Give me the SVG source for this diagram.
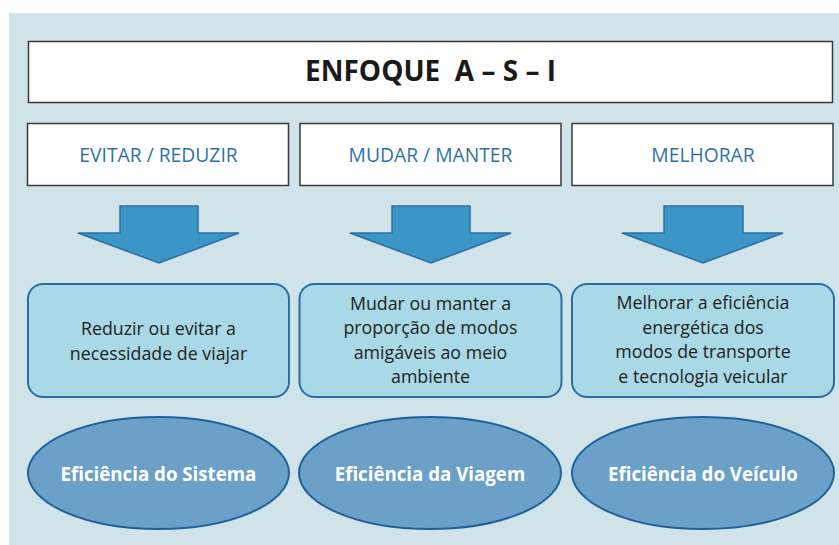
<svg xmlns="http://www.w3.org/2000/svg" width="839" height="545" viewBox="0 0 839 545">
<defs>
<style>
.hdr{fill:#ffffff;stroke:#3a3a3a;stroke-width:1.5}
.hdrt{font-family:"Open Sans","Liberation Sans",sans-serif;font-size:19.3px;fill:#2f72a6;text-anchor:middle}
.arr{fill:#3b95c7;stroke:#2b70a6;stroke-width:1.5;stroke-linejoin:miter}
.rb{fill:#a9d8e6;stroke:#2a6ea6;stroke-width:2}
.rbt{font-family:"Open Sans","Liberation Sans",sans-serif;font-size:17.8px;fill:#231f20;text-anchor:middle}
.el{fill:#6ba1c8;stroke:#1f619c;stroke-width:2}
.elt{font-family:"Open Sans","Liberation Sans",sans-serif;font-size:18.7px;font-weight:bold;fill:#ffffff;text-anchor:middle}
</style>
</defs>
<rect x="0" y="0" width="839" height="545" fill="#ffffff"/>
<rect x="9" y="13" width="830" height="532" fill="#cfe3e8"/>

<g id="title">
<rect class="hdr" x="28.5" y="41.5" width="804" height="61"/>
<text x="430.5" y="81" font-family="'Open Sans','Liberation Sans',sans-serif" font-size="28" font-weight="bold" fill="#1a1a1a" text-anchor="middle" xml:space="preserve">ENFOQUE  A – S – I</text>
</g>

<g id="h1">
<rect class="hdr" x="27.5" y="123.5" width="261" height="62"/>
<text class="hdrt" x="158.5" y="162">EVITAR / REDUZIR</text>
</g>
<g id="h2">
<rect class="hdr" x="300" y="123.5" width="261" height="62"/>
<text class="hdrt" x="430.5" y="162">MUDAR / MANTER</text>
</g>
<g id="h3">
<rect class="hdr" x="572" y="123.5" width="261" height="62"/>
<text class="hdrt" x="703" y="162">MELHORAR</text>
</g>

<g id="connectors">
<path class="arr" d="M120 206 H198 V233 H239 L159 263 L78 233 H120 Z"/>
<path class="arr" d="M392 206 H470 V233 H511 L431 263 L350 233 H392 Z"/>
<path class="arr" d="M664 206 H743 V233 H783 L703 263 L622 233 H664 Z"/>
</g>

<g id="b1">
<rect class="rb" x="28" y="284" width="261" height="113" rx="15" ry="15"/>
<text class="rbt" x="158.5" y="335">Reduzir ou evitar a</text>
<text class="rbt" x="158.5" y="359.5">necessidade de viajar</text>
</g>
<g id="b2">
<rect class="rb" x="299.5" y="284" width="262" height="113" rx="15" ry="15"/>
<text class="rbt" x="430.5" y="309.5">Mudar ou manter a</text>
<text class="rbt" x="430.5" y="334">proporção de modos</text>
<text class="rbt" x="430.5" y="358.5">amigáveis ao meio</text>
<text class="rbt" x="430.5" y="383">ambiente</text>
</g>
<g id="b3">
<rect class="rb" x="572" y="284" width="262" height="113" rx="15" ry="15"/>
<text class="rbt" x="703" y="309">Melhorar a eficiência</text>
<text class="rbt" x="703" y="333.5">energética dos</text>
<text class="rbt" x="703" y="358">modos de transporte</text>
<text class="rbt" x="703" y="382.5">e tecnologia veicular</text>
</g>

<g id="e1">
<ellipse class="el" cx="158.5" cy="473" rx="130.5" ry="56"/>
<text class="elt" x="158.5" y="481">Eficiência do Sistema</text>
</g>
<g id="e2">
<ellipse class="el" cx="430" cy="473" rx="131" ry="56"/>
<text class="elt" x="430" y="481">Eficiência da Viagem</text>
</g>
<g id="e3">
<ellipse class="el" cx="703" cy="473" rx="131" ry="56"/>
<text class="elt" x="703" y="481">Eficiência do Veículo</text>
</g>
</svg>
